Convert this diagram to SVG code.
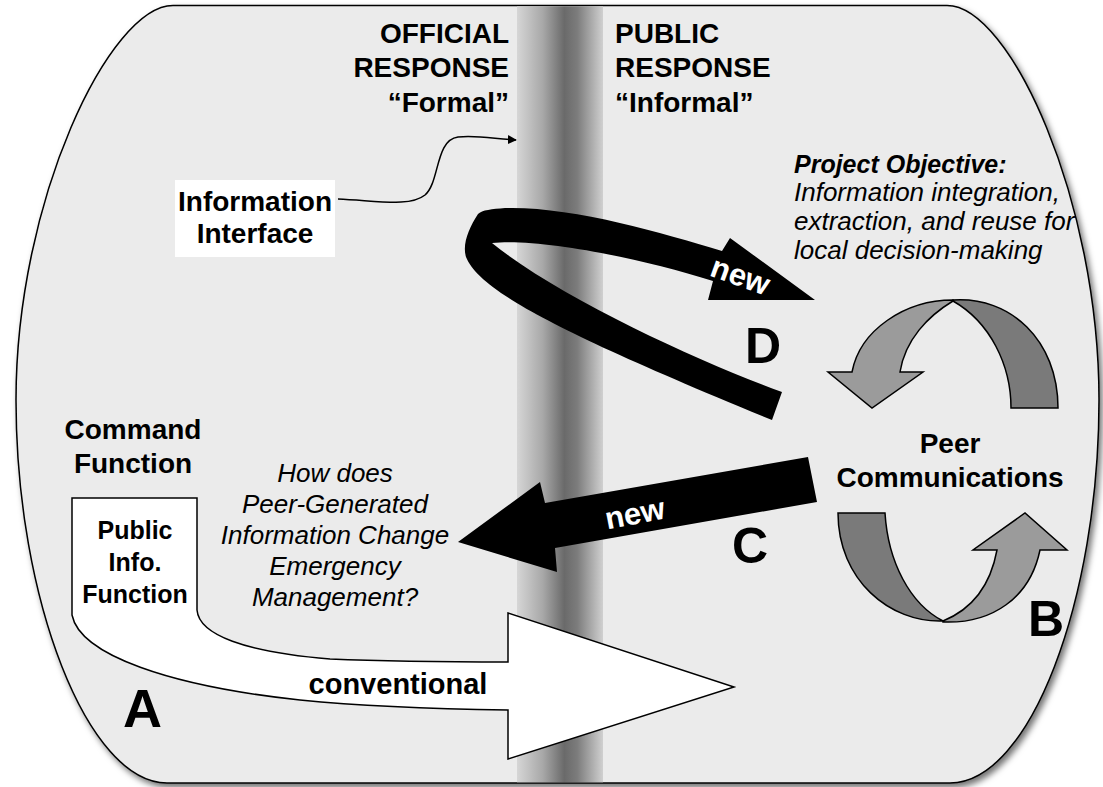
<svg xmlns="http://www.w3.org/2000/svg" width="1103" height="787" viewBox="0 0 1103 787">
<style>
.b{font-family:"Liberation Sans",Arial,sans-serif;font-weight:bold;fill:#000}
.i{font-family:"Liberation Sans",Arial,sans-serif;font-style:italic;fill:#000}
.bi{font-family:"Liberation Sans",Arial,sans-serif;font-style:italic;font-weight:bold;fill:#000}
.w{font-family:"Liberation Sans",Arial,sans-serif;font-weight:bold;fill:#fff}
.ln{fill:none;stroke:#000;stroke-width:1.5}
.dk{fill:#7a7a7a;stroke:#000;stroke-width:1.5;stroke-linejoin:miter}
.lt{fill:#9b9b9b;stroke:#000;stroke-width:1.5;stroke-linejoin:miter}
</style>
<defs>
<linearGradient id="band" x1="0" y1="0" x2="1" y2="0">
<stop offset="0" stop-color="#d6d6d6"/>
<stop offset="0.3" stop-color="#a8a8a8"/>
<stop offset="0.55" stop-color="#6a6a6a"/>
<stop offset="0.7" stop-color="#7c7c7c"/>
<stop offset="1" stop-color="#d0d0d0"/>
</linearGradient>
<filter id="sh" x="-5%" y="-5%" width="112%" height="112%">
<feDropShadow dx="3" dy="4" stdDeviation="3" flood-color="#000" flood-opacity="0.55"/>
</filter>
<marker id="ah" viewBox="0 0 10 10" refX="9" refY="5" markerWidth="9" markerHeight="9" markerUnits="userSpaceOnUse" orient="auto">
<path d="M0,0 L10,5 L0,10 Z" fill="#000"/>
</marker>
</defs>

<g id="frame">
<path d="M173,5.5 L947,5.5 C1010,5.5 1099,200 1099,400 C1099,600 1030,783 950,783 L167,783 C88,783 16,600 16,400 C16,200 110,5.5 173,5.5 Z" fill="#ebebeb" stroke="#000" stroke-width="1.5" filter="url(#sh)"/>
<rect x="517" y="6.3" width="86" height="776" fill="url(#band)"/>
</g>

<g id="official-response">
<text class="b" font-size="28" text-anchor="end" x="509" y="43">OFFICIAL</text>
<text class="b" font-size="28" text-anchor="end" x="509" y="77">RESPONSE</text>
<text class="b" font-size="28" text-anchor="end" x="509" y="112">“Formal”</text>
</g>
<g id="public-response">
<text class="b" font-size="28" x="615" y="43">PUBLIC</text>
<text class="b" font-size="28" x="615" y="77">RESPONSE</text>
<text class="b" font-size="28" x="615" y="112">“Informal”</text>
</g>

<g id="information-interface">
<rect x="175" y="180" width="160" height="77" fill="#fff"/>
<text class="b" font-size="28" text-anchor="middle" x="255" y="211">Information</text>
<text class="b" font-size="28" text-anchor="middle" x="255" y="243">Interface</text>
</g>

<g id="project-objective">
<text class="bi" font-size="25" x="794" y="173">Project Objective:</text>
<text class="i" font-size="26" x="794" y="201">Information integration,</text>
<text class="i" font-size="26" x="794" y="230">extraction, and reuse for</text>
<text class="i" font-size="26" x="794" y="259">local decision-making</text>
</g>

<g id="command-function">
<text class="b" font-size="28" text-anchor="middle" x="133" y="439">Command</text>
<text class="b" font-size="28" text-anchor="middle" x="133" y="473">Function</text>
</g>

<g id="question">
<text class="i" font-size="26" text-anchor="middle" x="335" y="482">How does</text>
<text class="i" font-size="26" text-anchor="middle" x="335" y="513">Peer-Generated</text>
<text class="i" font-size="26" text-anchor="middle" x="335" y="544">Information Change</text>
<text class="i" font-size="26" text-anchor="middle" x="335" y="575">Emergency</text>
<text class="i" font-size="26" text-anchor="middle" x="335" y="606">Management?</text>
</g>

<g id="peer-communications">
<path class="dk" d="M953,300 C1010,296 1058,340 1058,408 L1011,408 C1011,365 990,322 953,301 Z"/>
<path class="lt" d="M953,300 C905,300 860,330 852,372 L828,372 L872,408 L923,372 L900,372 C905,340 928,316 953,301 Z"/>
<path class="dk" d="M838,513 L885,513 C888,562 910,604 943,621 C890,623 838,580 838,513 Z"/>
<path class="lt" d="M943,622 C992,624 1030,598 1040,550 L1067,550 L1025,513 L973,550 L997,550 C990,588 970,610 943,621 Z"/>
<text class="b" font-size="28" text-anchor="middle" x="950" y="453">Peer</text>
<text class="b" font-size="28" text-anchor="middle" x="950" y="487">Communications</text>
<text class="b" font-size="50" x="1028" y="636">B</text>
</g>

<g id="connectors">
<path class="ln" d="M338,199 C380,201 410,207 425,195 C440,182 435,140 458,137 C478,135 495,139 516,140" marker-end="url(#ah)"/>

<g id="arrow-a">
<path d="M72,498 H197 V610 C199,635 245,652 330,659 C400,662 460,662 508,662 V613 L734,687 L508,759 V710 C440,709 370,707 300,700 C170,686 80,655 72,615 Z" fill="#fff" stroke="#000" stroke-width="1.5"/>
<text class="b" font-size="25" text-anchor="middle" x="135" y="539">Public</text>
<text class="b" font-size="25" text-anchor="middle" x="135" y="571">Info.</text>
<text class="b" font-size="25" text-anchor="middle" x="135" y="603">Function</text>
<text class="b" font-size="29" text-anchor="middle" x="398" y="694">conventional</text>
<text class="b" font-size="54" x="123" y="727">A</text>
</g>

<g id="arrow-c">
<path d="M808,457 L545,503 L540,482 L458,542 L557,572 L555,548 L817,502 Z" fill="#000"/>
<text class="w" font-size="31" text-anchor="middle" transform="translate(635,515) rotate(-11)" y="9">new</text>
<text class="b" font-size="50" x="732" y="563">C</text>
</g>

<g id="arrow-d">
<path d="M782,392 C700,362 560,298 492,243 C540,238 640,258 713,281 L708,300 L815,300 L730,238 L722,251 C660,232 570,206 505,208 C492,209 482,210 478,214 C469,228 462,244 466,257 C480,292 565,335 772,420 Z" fill="#000"/>
<text class="w" font-size="31" text-anchor="middle" transform="translate(740,277) rotate(20)" y="9">new</text>
<text class="b" font-size="50" x="745" y="363">D</text>
</g>
</g>
</svg>
